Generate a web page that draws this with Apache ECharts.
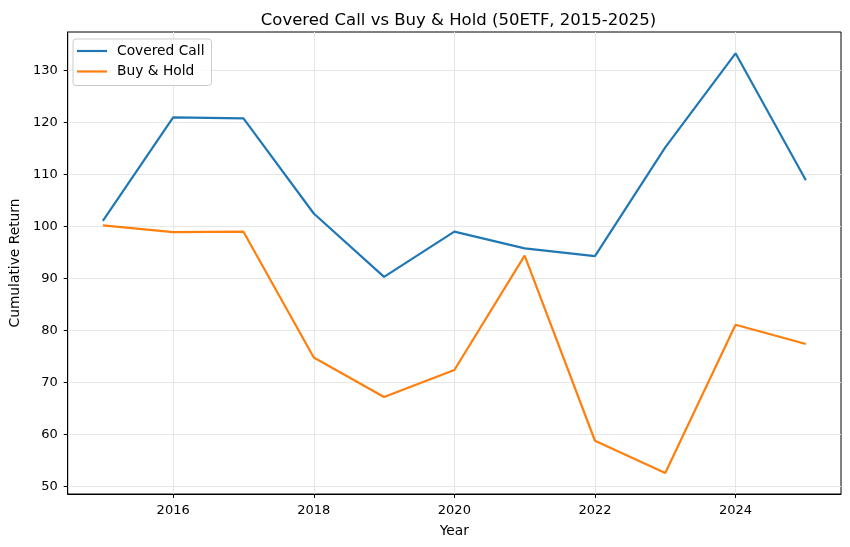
<!DOCTYPE html>
<html>
<head>
<meta charset="utf-8">
<script src="https://cdn.jsdelivr.net/npm/echarts@6/dist/echarts.min.js"></script>
<style>
  html, body { margin: 0; padding: 0; background: #fff; }
  #main { width: 850px; height: 547px; }
</style>
</head>
<body>
<div id="main"></div>
<script>
var myChart = echarts.init(document.getElementById('main'));

// data
var years = [2015, 2016, 2017, 2018, 2019, 2020, 2021, 2022, 2023, 2024, 2025];
var coveredCall = [101.1, 121.0, 120.8, 102.5, 90.3, 99.0, 95.8, 94.3, 115.2, 133.3, 108.9];
var buyHold = [100.2, 98.9, 99.0, 74.8, 67.2, 72.4, 94.4, 58.8, 52.6, 81.1, 77.4];
var xTicks = [2016, 2018, 2020, 2022, 2024];
var yTicks = [50, 60, 70, 80, 90, 100, 110, 120, 130];

var pair = function (xs, ys) {
    return xs.map(function (x, i) { return [x, ys[i]]; });
};

var font = 'DejaVu Sans';
var lineIcon = 'path://M0,0 L30,0 L30,2.2 L0,2.2 Z';

var option = {
    animation: false,
    backgroundColor: '#fff',
    textStyle: { fontFamily: font },
    title: {
        text: 'Covered Call vs Buy & Hold (50ETF, 2015-2025)',
        left: 453.5,
        textAlign: 'center',
        top: 7,
        textStyle: { fontFamily: font, fontSize: 16.5, fontWeight: 'normal', color: '#000' }
    },
    legend: {
        orient: 'vertical',
        left: 73,
        top: 39,
        padding: [4, 7, 6, 4],
        itemGap: 4.5,
        itemWidth: 30,
        itemHeight: 2.4,
        icon: lineIcon,
        backgroundColor: 'rgba(255,255,255,0.8)',
        borderColor: '#cccccc',
        borderWidth: 1,
        borderRadius: 3,
        textStyle: { fontFamily: font, fontSize: 13.8, lineHeight: 16, color: '#000', padding: [0, 0, 0, 5] },
        data: ['Covered Call', 'Buy & Hold']
    },
    grid: {
        left: 66, right: 9, top: 32, bottom: 53,
        show: true,
        borderColor: '#000',
        borderWidth: 1
    },
    xAxis: {
        type: 'value',
        min: 2014.5,
        max: 2025.5,
        name: 'Year',
        nameLocation: 'middle',
        nameGap: 30,
        nameTextStyle: { fontFamily: font, fontSize: 13.8, color: '#000' },
        axisLine: { show: true, onZero: false, lineStyle: { color: '#000', width: 1 } },
        axisTick: { show: true, length: 4, customValues: xTicks, lineStyle: { color: '#000' } },
        axisLabel: {
            customValues: xTicks, color: '#000', fontSize: 13, margin: 10, fontFamily: font,
            formatter: function (v) { return String(v); }
        },
        splitLine: { show: true, lineStyle: { color: '#e6e6e6', width: 1 } }
    },
    yAxis: {
        type: 'value',
        min: 48.56,
        max: 137.4,
        name: 'Cumulative Return',
        nameLocation: 'middle',
        nameGap: 43,
        nameTextStyle: { fontFamily: font, fontSize: 13.8, color: '#000' },
        axisLine: { show: true, lineStyle: { color: '#000', width: 1 } },
        axisTick: { show: true, length: 4, customValues: yTicks, lineStyle: { color: '#000' } },
        axisLabel: { customValues: yTicks, color: '#000', fontSize: 13, margin: 10, fontFamily: font },
        splitLine: { show: true, lineStyle: { color: '#e6e6e6', width: 1 } }
    },
    series: [
        {
            name: 'Covered Call',
            type: 'line',
            data: pair(years, coveredCall),
            showSymbol: false,
            symbol: 'none',
            itemStyle: { color: '#1f77b4' },
            lineStyle: { color: '#1f77b4', width: 2.2 }
        },
        {
            name: 'Buy & Hold',
            type: 'line',
            data: pair(years, buyHold),
            showSymbol: false,
            symbol: 'none',
            itemStyle: { color: '#ff7f0e' },
            lineStyle: { color: '#ff7f0e', width: 2.2 }
        }
    ]
};

myChart.setOption(option);
window.onresize = myChart.resize;
</script>
</body>
</html>
